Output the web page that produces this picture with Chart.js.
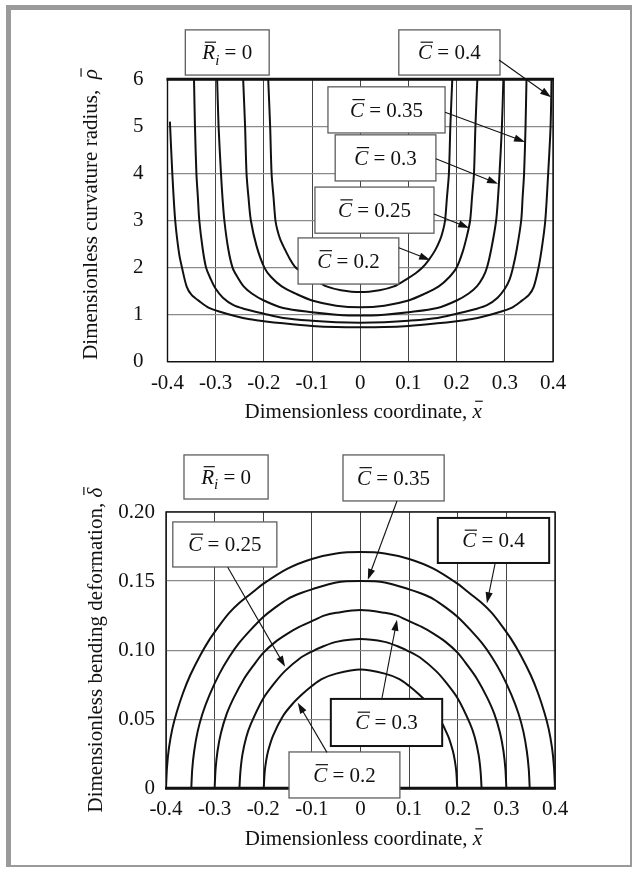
<!DOCTYPE html>
<html>
<head>
<meta charset="utf-8">
<script src="https://cdn.jsdelivr.net/npm/chart.js@4.4.1/dist/chart.umd.min.js"></script>
<style>
  html, body { margin: 0; padding: 0; background: #fff; }
  #page { position: relative; width: 636px; height: 870px; overflow: hidden; }
  #frame { position: absolute; left: 6px; top: 5px; width: 626px; height: 862px; box-sizing: border-box;
    border-left: 5px solid #9a9a9a; border-top: 5px solid #9a9a9a;
    border-right: 2px solid #9a9a9a; border-bottom: 2px solid #9a9a9a; }
  canvas { position: absolute; left: 0; }
  #rho { top: 0; }
  #delta { top: 435px; }
</style>
</head>
<body>
<div id="page">
  <div id="frame"></div>
  <canvas id="rho" width="636" height="440"></canvas>
  <canvas id="delta" width="636" height="435"></canvas>
</div>
<script>
// tick labels
const xTickLabels = ['-0.4', '-0.3', '-0.2', '-0.1', '0', '0.1', '0.2', '0.3', '0.4'];
const rhoTickLabels = ['0', '1', '2', '3', '4', '5', '6'];
const deltaTickLabels = ['0', '0.05', '0.10', '0.15', '0.20'];

// curvature radius vs x, one curve per C
const rhoX20 = [-0.191, -0.187, -0.184, -0.180, -0.176, -0.172, -0.166, -0.157, -0.147, -0.134, -0.115, -0.094, -0.07, -0.04, 0, 0.04, 0.07, 0.094, 0.115, 0.129, 0.142, 0.155, 0.166, 0.172, 0.176, 0.18, 0.184, 0.187, 0.191];
const rho20 = [6.0, 5.0, 4.0, 3.5, 3.0, 2.8, 2.6, 2.4, 2.2, 2.0, 1.86, 1.74, 1.6, 1.52, 1.48, 1.52, 1.6, 1.74, 1.88, 2.0, 2.16, 2.36, 2.6, 2.8, 3.0, 3.5, 4.0, 5.0, 6.0];
const rhoX25 = [-0.243, -0.239, -0.236, -0.232, -0.227, -0.215, -0.199, -0.185, -0.163, -0.135, -0.1, -0.05, 0, 0.05, 0.1, 0.135, 0.163, 0.185, 0.2, 0.213, 0.222, 0.228, 0.232, 0.236, 0.239, 0.243];
const rho25 = [6.0, 5.0, 4.0, 3.5, 3.0, 2.45, 2.0, 1.8, 1.6, 1.45, 1.3, 1.19, 1.155, 1.19, 1.3, 1.45, 1.6, 1.8, 2.0, 2.35, 2.7, 3.0, 3.5, 4.0, 5.0, 6.0];
const rhoX30 = [-0.297, -0.294, -0.289, -0.286, -0.282, -0.274, -0.265, -0.255, -0.242, -0.225, -0.2, -0.16, -0.1, -0.05, 0, 0.05, 0.1, 0.16, 0.2, 0.225, 0.242, 0.255, 0.263, 0.272, 0.282, 0.286, 0.289, 0.294, 0.297];
const rho30 = [6.0, 5.0, 4.0, 3.5, 3.0, 2.4, 2.0, 1.8, 1.6, 1.45, 1.3, 1.14, 1.05, 1.0, 0.98, 1.0, 1.05, 1.14, 1.3, 1.45, 1.6, 1.8, 2.0, 2.4, 3.0, 3.5, 4.0, 5.0, 6.0];
const rhoX35 = [-0.345, -0.343, -0.34, -0.337, -0.334, -0.327, -0.32, -0.31, -0.3, -0.285, -0.263, -0.24, -0.2, -0.16, -0.1, -0.05, 0, 0.05, 0.1, 0.16, 0.2, 0.24, 0.263, 0.285, 0.3, 0.31, 0.317, 0.325, 0.334, 0.337, 0.34, 0.343, 0.345];
const rho35 = [6.0, 5.0, 4.0, 3.5, 3.0, 2.4, 2.0, 1.75, 1.55, 1.36, 1.2, 1.12, 1.02, 0.93, 0.87, 0.84, 0.83, 0.84, 0.87, 0.93, 1.02, 1.12, 1.2, 1.36, 1.55, 1.75, 2.0, 2.4, 3.0, 3.5, 4.0, 5.0, 6.0];
const rhoX40 = [-0.395, -0.39, -0.384, -0.376, -0.37, -0.36, -0.35, -0.332, -0.315, -0.291, -0.26, -0.229, -0.2, -0.16, -0.1, -0.05, 0, 0.05, 0.1, 0.16, 0.2, 0.229, 0.26, 0.291, 0.315, 0.332, 0.35, 0.36, 0.37, 0.378, 0.384, 0.39, 0.395, 0.397];
const rho40 = [5.1, 4.0, 3.0, 2.3, 2.0, 1.59, 1.42, 1.27, 1.15, 1.06, 0.97, 0.9, 0.86, 0.815, 0.76, 0.735, 0.73, 0.735, 0.76, 0.815, 0.86, 0.9, 0.97, 1.06, 1.15, 1.27, 1.42, 1.59, 2.0, 2.5, 3.0, 4.0, 5.0, 6.0];

// bending deformation vs x
const dX20 = [-0.199, -0.197, -0.194, -0.19, -0.18, -0.16, -0.14, -0.12, -0.1, -0.08, -0.05, 0, 0.05, 0.08, 0.1, 0.12, 0.14, 0.16, 0.18, 0.19, 0.194, 0.197, 0.199];
const d20 = [0, 0.012, 0.020, 0.027, 0.038, 0.052, 0.061, 0.068, 0.074, 0.079, 0.083, 0.086, 0.083, 0.079, 0.074, 0.068, 0.061, 0.052, 0.038, 0.027, 0.020, 0.012, 0];
const dX25 = [-0.249, -0.247, -0.243, -0.235, -0.225, -0.2, -0.175, -0.155, -0.125, -0.1, -0.075, -0.05, 0, 0.05, 0.075, 0.1, 0.125, 0.155, 0.175, 0.2, 0.225, 0.235, 0.243, 0.247, 0.249];
const d25 = [0, 0.012, 0.024, 0.037, 0.047, 0.065, 0.077, 0.085, 0.094, 0.099, 0.103, 0.106, 0.108, 0.106, 0.103, 0.099, 0.094, 0.085, 0.077, 0.065, 0.047, 0.037, 0.024, 0.012, 0];
const dX30 = [-0.3, -0.298, -0.294, -0.287, -0.275, -0.26, -0.24, -0.22, -0.2, -0.175, -0.15, -0.125, -0.1, -0.075, -0.05, 0, 0.05, 0.075, 0.1, 0.125, 0.15, 0.175, 0.2, 0.22, 0.24, 0.26, 0.275, 0.287, 0.294, 0.298, 0.3];
const d30 = [0, 0.014, 0.027, 0.040, 0.054, 0.066, 0.079, 0.089, 0.098, 0.106, 0.112, 0.117, 0.121, 0.125, 0.127, 0.129, 0.127, 0.125, 0.121, 0.117, 0.112, 0.106, 0.098, 0.089, 0.079, 0.066, 0.054, 0.040, 0.027, 0.014, 0];
const dX35 = [-0.348, -0.346, -0.342, -0.335, -0.325, -0.31, -0.29, -0.27, -0.25, -0.225, -0.2, -0.175, -0.15, -0.125, -0.1, -0.05, 0, 0.05, 0.1, 0.125, 0.15, 0.175, 0.2, 0.225, 0.25, 0.27, 0.29, 0.31, 0.325, 0.335, 0.342, 0.346, 0.348];
const d35 = [0, 0.014, 0.027, 0.041, 0.054, 0.068, 0.083, 0.095, 0.105, 0.115, 0.124, 0.131, 0.137, 0.141, 0.144, 0.149, 0.150, 0.149, 0.144, 0.141, 0.137, 0.131, 0.124, 0.115, 0.105, 0.095, 0.083, 0.068, 0.054, 0.041, 0.027, 0.014, 0];
const dX40 = [-0.4, -0.398, -0.394, -0.387, -0.378, -0.365, -0.35, -0.33, -0.31, -0.29, -0.27, -0.25, -0.225, -0.2, -0.15, -0.1, -0.05, 0, 0.05, 0.1, 0.15, 0.2, 0.225, 0.25, 0.27, 0.29, 0.31, 0.33, 0.35, 0.365, 0.378, 0.387, 0.394, 0.398, 0.4];
const d40 = [0, 0.015, 0.029, 0.043, 0.055, 0.069, 0.082, 0.096, 0.108, 0.118, 0.127, 0.134, 0.141, 0.148, 0.159, 0.166, 0.170, 0.171, 0.170, 0.166, 0.159, 0.148, 0.141, 0.134, 0.127, 0.118, 0.108, 0.096, 0.082, 0.069, 0.055, 0.043, 0.029, 0.015, 0];

const serif = '"Liberation Serif", "Times New Roman", Times, serif';

function zip(xs, ys) {
  return xs.map((x, i) => ({ x: x, y: ys[i] }));
}

function curve(xs, ys) {
  return {
    data: zip(xs, ys),
    showLine: true,
    borderColor: '#111',
    borderWidth: 2,
    pointRadius: 0,
    tension: 0.3,
    fill: false
  };
}

// labels: italic letter with a bar, optional subscript, then plain text
function cLabel(v) {
  return [{ t: 'C', it: true, bar: 0.82 }, { t: ' = ' + v }];
}
const riLabel = [{ t: 'R', it: true, bar: 0.82 }, { t: 'i', it: true, sub: true }, { t: ' = 0' }];
const xTitle = [{ t: 'Dimensionless coordinate, ' }, { t: 'x', it: true, bar: 0.78 }];

const decor = {
  rho: {
    thickEdge: 'top',
    xTitleDy: 49, yTitleDx: -77, yTitleDy: -6,
    yTitle: [{ t: 'Dimensionless curvature radius,  ' }, { t: 'ρ', it: true, bar: 0.78 }],
    boxes: [
      { x1: -0.363, x2: -0.189, y1: 7.05, y2: 6.09, parts: riLabel },
      { x1: 0.080, x2: 0.290, y1: 7.05, y2: 6.09, parts: cLabel('0.4') },
      { x1: -0.067, x2: 0.176, y1: 5.84, y2: 4.86, parts: cLabel('0.35') },
      { x1: -0.052, x2: 0.157, y1: 4.82, y2: 3.84, parts: cLabel('0.3') },
      { x1: -0.094, x2: 0.153, y1: 3.71, y2: 2.73, parts: cLabel('0.25') },
      { x1: -0.129, x2: 0.080, y1: 2.63, y2: 1.65, parts: cLabel('0.2') }
    ],
    arrows: [
      [0.288, 6.41, 0.396, 5.62],
      [0.176, 5.30, 0.342, 4.67],
      [0.157, 4.31, 0.286, 3.78],
      [0.153, 3.14, 0.226, 2.84],
      [0.080, 2.42, 0.145, 2.16]
    ]
  },
  delta: {
    thickEdge: 'bottom',
    xTitleDy: 50, yTitleDx: -71, yTitleDy: 0,
    yTitle: [{ t: 'Dimensionless bending deformation, ' }, { t: 'δ', it: true, bar: 0.86 }],
    boxes: [
      { x1: -0.363, x2: -0.190, y1: 0.2413, y2: 0.2094, parts: riLabel },
      { x1: -0.036, x2: 0.172, y1: 0.2413, y2: 0.2080, parts: cLabel('0.35') },
      { x1: -0.386, x2: -0.172, y1: 0.1928, y2: 0.1602, parts: cLabel('0.25') },
      { x1: 0.159, x2: 0.388, y1: 0.1957, y2: 0.1631, parts: cLabel('0.4'), dark: true },
      { x1: -0.061, x2: 0.168, y1: 0.0647, y2: 0.0306, parts: cLabel('0.3'), dark: true },
      { x1: -0.147, x2: 0.081, y1: 0.0263, y2: -0.0070, parts: cLabel('0.2') }
    ],
    arrows: [
      [0.075, 0.208, 0.015, 0.151],
      [-0.273, 0.160, -0.155, 0.088],
      [0.277, 0.163, 0.260, 0.134],
      [0.044, 0.065, 0.075, 0.122],
      [-0.069, 0.026, -0.129, 0.062]
    ]
  }
};

function fontFor(p, size) {
  return (p.it ? 'italic ' : '') + Math.round(p.sub ? size * 0.7 : size) + 'px ' + serif;
}

function drawRich(ctx, cx, cy, parts, size) {
  let total = 0;
  const widths = parts.map(p => {
    ctx.font = fontFor(p, size);
    const w = ctx.measureText(p.t).width;
    total += w;
    return w;
  });
  let x = cx - total / 2;
  const base = cy + size * 0.33;
  ctx.fillStyle = '#111';
  ctx.strokeStyle = '#111';
  ctx.textAlign = 'left';
  ctx.textBaseline = 'alphabetic';
  parts.forEach((p, i) => {
    ctx.font = fontFor(p, size);
    const by = base + (p.sub ? size * 0.25 : 0);
    ctx.fillText(p.t, x, by);
    if (p.bar) {
      const top = by - size * p.bar;
      ctx.lineWidth = 1.2;
      ctx.beginPath();
      ctx.moveTo(x + size * 0.12, top);
      ctx.lineTo(x + widths[i] + size * 0.04, top);
      ctx.stroke();
    }
    x += widths[i];
  });
}

function arrow(ctx, x0, y0, x1, y1) {
  const ang = Math.atan2(y1 - y0, x1 - x0);
  const len = 11, half = 3.6;
  ctx.strokeStyle = '#111';
  ctx.fillStyle = '#111';
  ctx.lineWidth = 1.1;
  ctx.beginPath();
  ctx.moveTo(x0, y0);
  ctx.lineTo(x1 - Math.cos(ang) * len * 0.8, y1 - Math.sin(ang) * len * 0.8);
  ctx.stroke();
  ctx.beginPath();
  ctx.moveTo(x1, y1);
  ctx.lineTo(x1 - len * Math.cos(ang) + half * Math.sin(ang), y1 - len * Math.sin(ang) - half * Math.cos(ang));
  ctx.lineTo(x1 - len * Math.cos(ang) - half * Math.sin(ang), y1 - len * Math.sin(ang) + half * Math.cos(ang));
  ctx.closePath();
  ctx.fill();
}

const decorPlugin = {
  id: 'decor',
  afterDatasetsDraw(chart) {
    const d = decor[chart.canvas.id];
    const ctx = chart.ctx;
    const a = chart.chartArea;
    const xs = chart.scales.x, ys = chart.scales.y;
    ctx.save();
    // plot frame
    ctx.strokeStyle = '#111';
    ctx.lineWidth = 1.4;
    ctx.strokeRect(a.left, a.top, a.right - a.left, a.bottom - a.top);
    ctx.lineWidth = 3;
    const ey = d.thickEdge === 'top' ? a.top : a.bottom;
    ctx.beginPath();
    ctx.moveTo(a.left - 1, ey);
    ctx.lineTo(a.right + 1, ey);
    ctx.stroke();
    // label boxes
    d.boxes.forEach(b => {
      const l = xs.getPixelForValue(b.x1), r = xs.getPixelForValue(b.x2);
      const t = ys.getPixelForValue(b.y1), bt = ys.getPixelForValue(b.y2);
      ctx.fillStyle = '#fff';
      ctx.fillRect(l, t, r - l, bt - t);
      ctx.strokeStyle = b.dark ? '#111' : '#5e5e5e';
      ctx.lineWidth = b.dark ? 2 : 1.3;
      ctx.strokeRect(l, t, r - l, bt - t);
      drawRich(ctx, (l + r) / 2, (t + bt) / 2, b.parts, 21);
    });
    // arrows
    d.arrows.forEach(p => {
      arrow(ctx, xs.getPixelForValue(p[0]), ys.getPixelForValue(p[1]),
        xs.getPixelForValue(p[2]), ys.getPixelForValue(p[3]));
    });
    // axis titles
    drawRich(ctx, (a.left + a.right) / 2 + 3, a.bottom + d.xTitleDy, xTitle, 21);
    ctx.translate(a.left + d.yTitleDx, (a.top + a.bottom) / 2 + d.yTitleDy);
    ctx.rotate(-Math.PI / 2);
    drawRich(ctx, 0, 0, d.yTitle, 21);
    ctx.restore();
  }
};

function makeConfig(datasets, y, pad) {
  return {
    type: 'scatter',
    data: { datasets: datasets },
    plugins: [decorPlugin],
    options: {
      responsive: false,
      animation: false,
      layout: { padding: pad.layout },
      plugins: { legend: { display: false }, tooltip: { enabled: false } },
      scales: {
        x: {
          type: 'linear', min: -0.4, max: 0.4,
          afterFit: s => { s.height = 40; },
          ticks: {
            stepSize: 0.1, padding: 9, color: '#111',
            font: { family: serif, size: 21 },
            callback: (v, i) => xTickLabels[i]
          },
          grid: { color: '#444', lineWidth: 1, drawTicks: false },
          border: { display: false }
        },
        y: {
          type: 'linear', min: y.min, max: y.max,
          afterFit: s => { s.width = pad.yWidth; },
          ticks: {
            stepSize: y.step, padding: pad.yTickPad, color: '#111',
            font: { family: serif, size: 21 },
            callback: (v, i) => y.labels[i]
          },
          grid: { color: '#8a8a8a', lineWidth: 1.2, drawTicks: false },
          border: { display: false }
        }
      }
    }
  };
}

const rhoChart = new Chart(document.getElementById('rho'), makeConfig(
  [curve(rhoX20, rho20), curve(rhoX25, rho25), curve(rhoX30, rho30), curve(rhoX35, rho35), curve(rhoX40, rho40)],
  { min: 0, max: 6, step: 1, labels: rhoTickLabels },
  { layout: { left: 20, right: 83, top: 79.3, bottom: 38.3 }, yWidth: 147.5, yTickPad: 24 }
));

const deltaChart = new Chart(document.getElementById('delta'), makeConfig(
  [curve(dX20, d20), curve(dX25, d25), curve(dX30, d30), curve(dX35, d35), curve(dX40, d40)],
  { min: 0, max: 0.2, step: 0.05, labels: deltaTickLabels },
  { layout: { left: 20, right: 81, top: 77, bottom: 41.7 }, yWidth: 146, yTickPad: 11 }
));
</script>
</body>
</html>
